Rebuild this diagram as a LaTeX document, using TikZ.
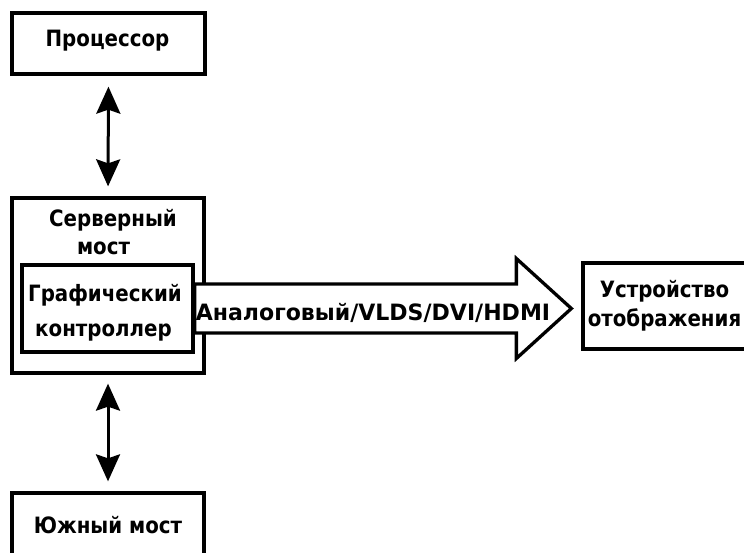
\documentclass[tikz,border=0pt]{standalone}
\usepackage{fontspec}
\setmainfont[FakeStretch=0.88]{DejaVu Sans}
\newfontfamily\widefont[FakeStretch=0.98]{DejaVu Sans}
\usetikzlibrary{arrows.meta,calc}
\begin{document}
\begin{tikzpicture}[x=1pt,y=-1pt,
  font=\fontsize{22.5}{26}\selectfont\bfseries,
  box/.style={draw, line width=3.3pt, rectangle, inner sep=0pt},
  lbl/.style={anchor=base, inner sep=0pt},
  dbl/.style={{Stealth[length=27pt,width=24pt,inset=4pt]}-{Stealth[length=27pt,width=24pt,inset=4pt]}, line width=3pt},
  bigarrow/.style={draw, fill=white, line width=3.3pt, line join=miter}]
\useasboundingbox (0,0) rectangle (744,553);
\fill[white] (0,0) rectangle (744,553);

% blocks
\node[box, minimum width=193, minimum height=61] (cpu) at (108.5,43.5) {};
\node[box, minimum width=192, minimum height=175] (nb) at (108,285.5) {};
\node[box, minimum width=171, minimum height=87] (gc) at (107.5,308.5) {};
\node[box, minimum width=163, minimum height=86] (disp) at (664.5,306) {};
\node[box, minimum width=192, minimum height=62] (sb) at (108,524) {};

% buses between the chips
\draw[dbl, shorten <=11pt, shorten >=10pt] (cpu.south) -- (nb.north);
\draw[dbl, shorten <=9pt, shorten >=10pt] (nb.south) -- (sb.north);

% video output
\draw[bigarrow] let \p1=(gc.east), \p2=(disp.west) in
  (\x1,\y1+24.5pt) -- (\x2-65pt,\y1+24.5pt) -- (\x2-65pt,\y1+50pt)
  -- (\x2-10pt,\y1) -- (\x2-65pt,\y1-50pt) -- (\x2-65pt,\y1-24.5pt)
  -- (\x1,\y1-24.5pt) -- cycle;

% texts
\node[lbl] (tcpu) at (107.5,46.7) {Процессор};
\node[lbl] (tnb1) at (113,227) {Серверный};
\node[lbl] (tnb2) at (103.5,255) {мост};
\node[lbl] (tgc1) at (105,301.7) {Графический};
\node[lbl] (tgc2) at (103.5,336.5) {контроллер};
\node[lbl, font=\widefont\fontsize{22.5}{26}\selectfont\bfseries] (tsig) at (373,320) {Аналоговый/VLDS/DVI/HDMI};
\node[lbl] (tdisp1) at (664.5,297.7) {Устройство};
\node[lbl] (tdisp2) at (664.5,326.7) {отображения};
\node[lbl] (tsb) at (108,533.3) {Южный мост};
\end{tikzpicture}
\end{document}
